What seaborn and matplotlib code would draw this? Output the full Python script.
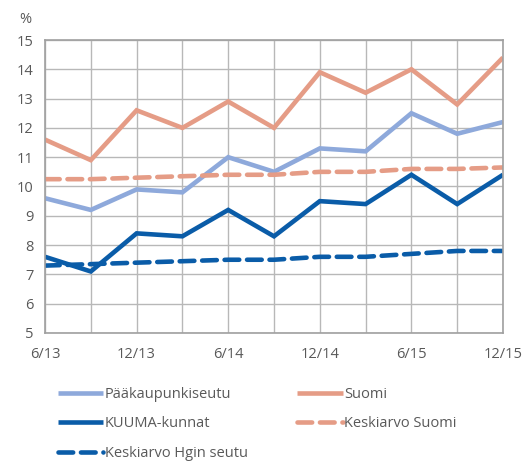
import matplotlib
matplotlib.use("Agg")
import matplotlib.pyplot as plt
import seaborn as sns
import pandas as pd

periods = ["6/13", "9/13", "12/13", "3/14", "6/14", "9/14", "12/14", "3/15", "6/15", "9/15", "12/15"]
tick_labels = ["6/13", "", "12/13", "", "6/14", "", "12/14", "", "6/15", "", "12/15"]
paakaupunkiseutu = [9.6, 9.2, 9.9, 9.8, 11.0, 10.5, 11.3, 11.2, 12.5, 11.8, 12.2]
suomi = [11.6, 10.9, 12.6, 12.0, 12.9, 12.0, 13.9, 13.2, 14.0, 12.8, 14.4]
kuuma = [7.6, 7.1, 8.4, 8.3, 9.2, 8.3, 9.5, 9.4, 10.4, 9.4, 10.4]
ka_suomi = [10.25, 10.25, 10.3, 10.35, 10.4, 10.4, 10.5, 10.5, 10.6, 10.6, 10.65]
ka_hgin = [7.3, 7.35, 7.4, 7.45, 7.5, 7.5, 7.6, 7.6, 7.7, 7.8, 7.8]

series = {
    "Pääkaupunkiseutu": paakaupunkiseutu,
    "Suomi": suomi,
    "KUUMA-kunnat": kuuma,
    "Keskiarvo Suomi": ka_suomi,
    "Keskiarvo Hgin seutu": ka_hgin,
}
styles = {
    "Pääkaupunkiseutu": dict(color="#8EA9DB", ls="-"),
    "Suomi": dict(color="#E59C86", ls="-"),
    "KUUMA-kunnat": dict(color="#0A5CA8", ls="-"),
    "Keskiarvo Suomi": dict(color="#E59C86", ls=(0, (3.2, 1.7))),
    "Keskiarvo Hgin seutu": dict(color="#0A5CA8", ls=(0, (3.2, 1.7))),
}

rows = []
for name, vals in series.items():
    for i, v in enumerate(vals):
        rows.append({"idx": i, "value": v, "series": name})
df = pd.DataFrame(rows)

sns.set_style("white")
plt.rcParams["font.family"] = ["Open Sans", "DejaVu Sans"]

fig = plt.figure(figsize=(5.24, 4.63), dpi=100)
ax = fig.add_axes([0.0859, 0.2808, 0.874, 0.6328])

handles = {}
for name in series:
    st = styles[name]
    sub = df[df["series"] == name]
    sns.lineplot(data=sub, x="idx", y="value", ax=ax, color=st["color"],
                 linewidth=3.3, linestyle=st["ls"], legend=False)
    line = ax.lines[-1]
    line.set_dash_capstyle("round")
    line.set_solid_capstyle("butt")
    line.set_solid_joinstyle("miter")
    handles[name] = line

ax.set_xlim(0, len(periods) - 1)
ax.set_ylim(5, 15)
ax.set_xticks(range(len(periods)))
ax.set_xticklabels(tick_labels)
ax.set_yticks(range(5, 16))
ax.set_xlabel("")
ax.set_ylabel("")
ax.grid(True, color="#B8B8B8", linewidth=1.0)
ax.set_axisbelow(True)
for s in ax.spines.values():
    s.set_color("#A0A0A0")
    s.set_linewidth(1.2)
ax.tick_params(axis="both", colors="#A0A0A0", labelcolor="#595959", labelsize=10.5,
               length=4, width=1.2, direction="out")
ax.tick_params(axis="x", pad=6)
ax.tick_params(axis="y", pad=4)

fig.text(0.036, 0.958, "%", color="#595959", fontsize=10.5, ha="left", va="center")

order = ["Pääkaupunkiseutu", "KUUMA-kunnat", "Keskiarvo Hgin seutu", "Suomi", "Keskiarvo Suomi"]
leg = fig.legend([handles[n] for n in order], order, ncol=2, frameon=False,
                 loc="upper left", bbox_to_anchor=(0.086, 0.193),
                 fontsize=10.5, handlelength=3.1, handletextpad=0.1,
                 columnspacing=3.4, labelspacing=1.0)
for t in leg.get_texts():
    t.set_color("#595959")

fig.savefig("out.png", dpi=100)
